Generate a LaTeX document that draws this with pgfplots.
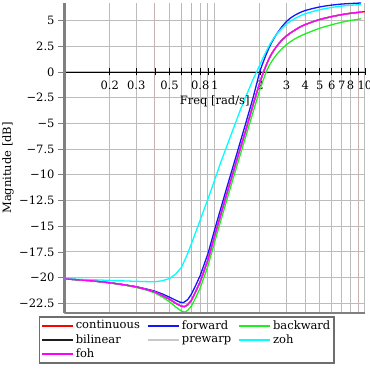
\documentclass[border=0pt]{standalone}
\usepackage{fontspec}
\setmainfont{DejaVu Serif}
\usepackage{pgfplots}
\pgfplotsset{compat=1.18}
\definecolor{gridmaj}{RGB}{188,188,188}
\definecolor{gridmin}{RGB}{198,176,176}
\definecolor{framegray}{RGB}{128,128,128}
\definecolor{leggray}{RGB}{110,110,110}
\definecolor{cred}{RGB}{255,0,0}
\definecolor{cblue}{RGB}{20,20,255}
\definecolor{cgreen}{RGB}{30,240,30}
\definecolor{cblack}{RGB}{30,30,30}
\definecolor{cgray}{RGB}{200,200,200}
\definecolor{ccyan}{RGB}{0,255,255}
\definecolor{cmag}{RGB}{255,0,255}
\begin{document}
\fontsize{11.5}{13.8}\selectfont
\begin{tikzpicture}
\begin{axis}[
  scale only axis, width=300.5pt, height=310pt,
  xmode=log, xmin=0.1, xmax=10, ymin=-23.44, ymax=6.7,
  axis x line=middle, axis y line=left,
  x axis line style={-, black, line width=0.8pt},
  y axis line style={-, framegray, line width=2.4pt},
  xtick={0.2,0.3,0.5,0.8,1,2,3,4,5,6,7,8,10},
  xticklabels={0.2,0.3,0.5,0.8,1,2,3,4,5,6,7,8,10},
  minor xtick={0.4,0.6,0.7,0.9,9},
  ytick={-22.5,-20,-17.5,-15,-12.5,-10,-7.5,-5,-2.5,0,2.5,5},
  yticklabels={−22.5,−20,−17.5,−15,−12.5,−10,−7.5,−5,−2.5,0,2.5,5},
  grid=both,
  major grid style={gridmaj, line width=1pt},
  minor grid style={gridmin, line width=1pt},
  xtick align=center, ytick align=outside,
  major tick length=7pt, minor tick length=7pt,
  x tick style={black, line width=0.6pt},
  y tick style={framegray, line width=0.6pt},
  xticklabel style={yshift=-2pt},
  yticklabel style={xshift=1pt},
  xlabel={Freq [rad/s]}, ylabel={Magnitude [dB]},
  every axis x label/.style={at={(axis cs:1,0)}, anchor=center, yshift=-29pt},
  every axis y label/.style={at={(axis description cs:-0.188,0.468)}, rotate=90, anchor=center},
  legend columns=3,
  legend cell align=left,
  legend style={at={(axis description cs:-0.0865,-0.0097)}, anchor=north west, draw=leggray, line width=1.6pt, inner sep=1.5pt,
    /tikz/every even column/.append style={column sep=5pt}},
  legend image code/.code={\draw[#1, line width=2pt] (0pt,0pt) -- (31pt,0pt);},
  every axis plot/.append style={line width=1.3pt, no markers},
]
\addplot[cred] coordinates {(0.1,-20.12) (0.15,-20.3) (0.2,-20.5) (0.25,-20.7) (0.3,-20.9) (0.35,-21.15) (0.4,-21.4) (0.45,-21.75) (0.5,-22.1) (0.55,-22.5) (0.6,-22.78) (0.63,-22.82) (0.66,-22.65) (0.7,-22.2) (0.75,-21.3) (0.8,-20.4) (0.9,-18.3) (1.0,-15.9) (1.2,-11.9) (1.4,-8.6) (1.6,-5.8) (1.8,-3.2) (1.9,-2.05) (2.0,-1.0) (2.1,-0.1) (2.2,0.65) (2.3,1.3) (2.4,1.8) (2.5,2.2) (2.6,2.55) (2.8,3.1) (3.0,3.5) (3.2,3.8) (3.4,4.05) (3.7,4.38) (4.0,4.6) (4.5,4.88) (5.0,5.1) (5.5,5.25) (6.2,5.42) (7.0,5.57) (8.0,5.7) (9.42,5.82) (10,5.86)};
\addlegendentry{continuous}
\addplot[cblue] coordinates {(0.1,-20.12) (0.15,-20.3) (0.2,-20.5) (0.25,-20.7) (0.3,-20.88) (0.35,-21.1) (0.4,-21.32) (0.45,-21.6) (0.5,-21.9) (0.55,-22.2) (0.59,-22.4) (0.62,-22.42) (0.66,-22.15) (0.7,-21.6) (0.75,-20.7) (0.8,-19.8) (0.9,-17.7) (1.0,-15.3) (1.2,-11.3) (1.4,-8.0) (1.6,-5.1) (1.8,-2.5) (2.0,0.1) (2.1,0.95) (2.2,1.7) (2.3,2.35) (2.4,2.9) (2.5,3.35) (2.6,3.75) (2.8,4.4) (3.0,4.9) (3.2,5.25) (3.4,5.5) (3.7,5.78) (4.0,5.97) (4.5,6.17) (5.0,6.32) (5.5,6.42) (6.2,6.52) (7.0,6.6) (8.0,6.65) (9.42,6.7)};
\addlegendentry{forward}
\addplot[cgreen] coordinates {(0.1,-20.12) (0.15,-20.3) (0.2,-20.5) (0.25,-20.72) (0.3,-20.95) (0.35,-21.2) (0.4,-21.5) (0.45,-21.9) (0.5,-22.35) (0.55,-22.85) (0.6,-23.25) (0.63,-23.35) (0.66,-23.2) (0.7,-22.75) (0.75,-21.9) (0.8,-21.0) (0.9,-18.9) (1.0,-16.5) (1.2,-12.5) (1.4,-9.2) (1.6,-6.4) (1.8,-3.9) (2.0,-1.7) (2.1,-0.8) (2.2,0.0) (2.3,0.6) (2.4,1.05) (2.5,1.42) (2.6,1.75) (2.8,2.25) (3.0,2.65) (3.2,2.95) (3.4,3.2) (3.7,3.48) (4.0,3.7) (4.5,4.0) (5.0,4.25) (5.5,4.43) (6.2,4.64) (7.0,4.83) (8.0,5.0) (9.42,5.16)};
\addlegendentry{backward}
\addplot[cblack] coordinates {(0.1,-20.12) (0.15,-20.3) (0.2,-20.5) (0.25,-20.7) (0.3,-20.9) (0.35,-21.15) (0.4,-21.4) (0.45,-21.75) (0.5,-22.1) (0.55,-22.5) (0.6,-22.78) (0.63,-22.82) (0.66,-22.65) (0.7,-22.2) (0.75,-21.3) (0.8,-20.4) (0.9,-18.3) (1.0,-15.9) (1.2,-11.9) (1.4,-8.6) (1.6,-5.8) (1.8,-3.2) (1.9,-2.05) (2.0,-1.0) (2.1,-0.1) (2.2,0.65) (2.3,1.3) (2.4,1.8) (2.5,2.2) (2.6,2.55) (2.8,3.1) (3.0,3.5) (3.2,3.8) (3.4,4.05) (3.7,4.38) (4.0,4.6) (4.5,4.88) (5.0,5.1) (5.5,5.25) (6.2,5.42) (7.0,5.57) (8.0,5.7) (9.42,5.82)};
\addlegendentry{bilinear}
\addplot[cgray] coordinates {(0.1,-20.12) (0.15,-20.3) (0.2,-20.5) (0.25,-20.7) (0.3,-20.9) (0.35,-21.15) (0.4,-21.4) (0.45,-21.75) (0.5,-22.1) (0.55,-22.5) (0.6,-22.78) (0.63,-22.82) (0.66,-22.65) (0.7,-22.2) (0.75,-21.3) (0.8,-20.4) (0.9,-18.3) (1.0,-15.9) (1.2,-11.9) (1.4,-8.6) (1.6,-5.8) (1.8,-3.2) (1.9,-2.05) (2.0,-1.0) (2.1,-0.1) (2.2,0.65) (2.3,1.3) (2.4,1.8) (2.5,2.2) (2.6,2.55) (2.8,3.1) (3.0,3.5) (3.2,3.8) (3.4,4.05) (3.7,4.38) (4.0,4.6) (4.5,4.88) (5.0,5.1) (5.5,5.25) (6.2,5.42) (7.0,5.57) (8.0,5.7) (9.42,5.82)};
\addlegendentry{prewarp}
\addplot[ccyan] coordinates {(0.1,-20.12) (0.15,-20.2) (0.2,-20.27) (0.25,-20.32) (0.3,-20.36) (0.35,-20.39) (0.4,-20.4) (0.45,-20.3) (0.5,-20.08) (0.55,-19.65) (0.6,-19.0) (0.65,-17.9) (0.7,-16.7) (0.8,-14.4) (0.93,-11.8) (1.09,-8.9) (1.27,-6.3) (1.48,-3.7) (1.72,-1.4) (1.8,-0.72) (1.9,0.0) (2.0,0.72) (2.1,1.4) (2.2,2.0) (2.3,2.55) (2.4,3.0) (2.5,3.4) (2.6,3.72) (2.8,4.25) (3.0,4.65) (3.2,4.95) (3.4,5.18) (3.7,5.45) (4.0,5.65) (4.5,5.88) (5.0,6.05) (5.5,6.17) (6.2,6.3) (7.0,6.4) (8.0,6.48) (9.42,6.55)};
\addlegendentry{zoh}
\addplot[cmag] coordinates {(0.1,-20.12) (0.15,-20.3) (0.2,-20.5) (0.25,-20.7) (0.3,-20.9) (0.35,-21.15) (0.4,-21.4) (0.45,-21.75) (0.5,-22.1) (0.55,-22.5) (0.6,-22.78) (0.63,-22.82) (0.66,-22.65) (0.7,-22.2) (0.75,-21.3) (0.8,-20.4) (0.9,-18.3) (1.0,-15.9) (1.2,-11.9) (1.4,-8.6) (1.6,-5.8) (1.8,-3.2) (1.9,-2.05) (2.0,-1.0) (2.1,-0.1) (2.2,0.65) (2.3,1.3) (2.4,1.8) (2.5,2.2) (2.6,2.55) (2.8,3.1) (3.0,3.5) (3.2,3.8) (3.4,4.05) (3.7,4.38) (4.0,4.6) (4.5,4.88) (5.0,5.1) (5.5,5.25) (6.2,5.42) (7.0,5.57) (8.0,5.7) (9.42,5.82)};
\addlegendentry{foh}
\draw[framegray, line width=2.4pt] (rel axis cs:0,0) -- (rel axis cs:1,0);
\end{axis}
\pgfresetboundingbox
\useasboundingbox (-64.5pt,-57pt) rectangle (305.5pt,313pt);
\end{tikzpicture}
\end{document}
